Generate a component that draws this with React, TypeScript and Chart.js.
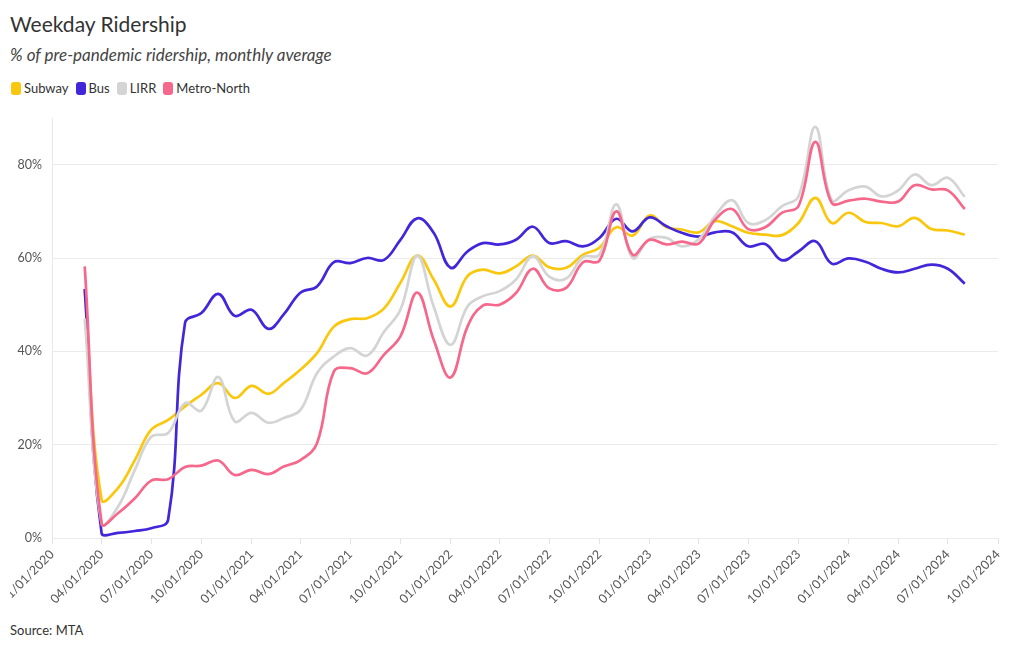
import React, { useEffect, useRef } from 'react';
import { Chart, registerables } from 'chart.js';

Chart.register(...registerables);

// ---------- Data ----------
const months = [
  '2020-03-01', '2020-04-01', '2020-05-01', '2020-06-01', '2020-07-01', '2020-08-01', '2020-09-01', '2020-10-01', '2020-11-01', '2020-12-01',
  '2021-01-01', '2021-02-01', '2021-03-01', '2021-04-01', '2021-05-01', '2021-06-01', '2021-07-01', '2021-08-01', '2021-09-01', '2021-10-01', '2021-11-01', '2021-12-01',
  '2022-01-01', '2022-02-01', '2022-03-01', '2022-04-01', '2022-05-01', '2022-06-01', '2022-07-01', '2022-08-01', '2022-09-01', '2022-10-01', '2022-11-01', '2022-12-01',
  '2023-01-01', '2023-02-01', '2023-03-01', '2023-04-01', '2023-05-01', '2023-06-01', '2023-07-01', '2023-08-01', '2023-09-01', '2023-10-01', '2023-11-01', '2023-12-01',
  '2024-01-01', '2024-02-01', '2024-03-01', '2024-04-01', '2024-05-01', '2024-06-01', '2024-07-01', '2024-08-01',
];

const subway = [
  53.0, 8.2, 10.7, 16.7, 23.2, 25.3, 28.2, 30.7, 33.2, 30.0,
  32.6, 30.9, 33.2, 36.1, 39.6, 45.3, 46.9, 47.1, 49.2, 54.7, 60.5, 55.4,
  49.6, 56.1, 57.5, 56.7, 58.2, 60.5, 58.0, 57.9, 60.7, 62.2, 66.6, 64.8,
  69.1, 66.6, 66.1, 65.5, 67.9, 66.8, 65.4, 65.0, 64.9, 67.5, 72.9, 67.5,
  69.7, 67.7, 67.5, 66.8, 68.6, 66.2, 65.9, 65.0,
];

const bus = [
  53.4, 1.0, 1.1, 1.5, 2.1, 3.9, 46.1, 48.2, 52.3, 47.6,
  48.9, 44.8, 47.9, 52.6, 53.9, 59.1, 58.9, 60.0, 59.6, 63.9, 68.5, 65.4,
  57.9, 61.4, 63.2, 62.9, 63.9, 66.7, 63.2, 63.6, 62.5, 64.3, 68.4, 65.7,
  68.7, 66.8, 65.4, 64.6, 65.5, 65.5, 62.5, 63.0, 59.5, 61.4, 63.6, 58.8,
  59.9, 59.2, 57.7, 56.9, 57.7, 58.6, 57.7, 54.5,
];

const lirr = [
  47.0, 3.1, 6.7, 14.6, 21.7, 22.5, 28.9, 27.3, 34.5, 25.0,
  26.8, 24.7, 25.7, 27.5, 35.3, 38.9, 40.7, 39.1, 44.2, 48.9, 60.5, 49.6,
  41.4, 49.6, 51.8, 52.9, 55.4, 60.4, 56.0, 55.6, 60.2, 60.7, 71.5, 60.0,
  64.1, 64.3, 62.5, 64.0, 69.0, 72.4, 67.5, 68.1, 71.1, 73.2, 88.1, 72.4,
  74.5, 75.3, 73.2, 74.5, 77.9, 75.6, 77.2, 73.1,
];

const metroNorth = [
  58.2, 3.1, 5.3, 8.5, 12.3, 12.6, 15.2, 15.5, 16.6, 13.5,
  14.6, 13.7, 15.3, 16.7, 20.3, 35.7, 36.4, 35.3, 39.3, 43.2, 52.6, 42.5,
  34.4, 45.3, 49.8, 50.0, 52.5, 57.7, 53.5, 53.6, 59.1, 59.4, 70.0, 60.7,
  63.9, 62.9, 63.5, 63.1, 68.2, 70.5, 66.2, 66.6, 69.7, 71.1, 84.9, 71.8,
  72.3, 72.7, 72.1, 72.1, 75.6, 74.7, 74.5, 70.5,
];

const seriesNames = ['Subway', 'Bus', 'LIRR', 'Metro-North'];
const seriesColors = ['#f9c80e', '#4226d9', '#d4d4d4', '#f6688b'];
const seriesValues = [subway, bus, lirr, metroNorth];

const xTickLabels = [
  '01/01/2020', '04/01/2020', '07/01/2020', '10/01/2020',
  '01/01/2021', '04/01/2021', '07/01/2021', '10/01/2021',
  '01/01/2022', '04/01/2022', '07/01/2022', '10/01/2022',
  '01/01/2023', '04/01/2023', '07/01/2023', '10/01/2023',
  '01/01/2024', '04/01/2024', '07/01/2024', '10/01/2024',
];
const yTickValues = [0, 20, 40, 60, 80];

// ---------- helpers ----------
const ORIGIN = Date.UTC(2020, 0, 1);
const isoToDay = (s: string) => {
  const [y, m, d] = s.split('-').map(Number);
  return (Date.UTC(y, m - 1, d) - ORIGIN) / 86400000;
};
const labelToDay = (s: string) => {
  const [m, d, y] = s.split('/').map(Number);
  return (Date.UTC(y, m - 1, d) - ORIGIN) / 86400000;
};

const FONT = 'Lato, "Source Sans Pro", "Noto Sans", sans-serif';

export default function App() {
  const canvasRef = useRef<HTMLCanvasElement | null>(null);

  useEffect(() => {
    const canvas = canvasRef.current;
    if (!canvas) return;
    const xDays = months.map(isoToDay);
    const tickDays = xTickLabels.map(labelToDay);

    const chart = new Chart(canvas, {
      type: 'line',
      data: {
        datasets: seriesValues.map((vals, i) => ({
          label: seriesNames[i],
          data: vals.map((v, j) => ({ x: xDays[j], y: v })),
          borderColor: seriesColors[i],
          backgroundColor: seriesColors[i],
          borderWidth: 2.7,
          pointRadius: 0,
          pointHoverRadius: 0,
          tension: 0.4,
          fill: false,
          order: seriesValues.length - i,
        })),
      },
      options: {
        animation: false,
        responsive: false,
        maintainAspectRatio: false,
        layout: { padding: { top: 10, right: 12, left: 0, bottom: 0 } },
        plugins: {
          legend: { display: false },
          tooltip: { enabled: false },
          title: { display: false },
        },
        scales: {
          x: {
            type: 'linear',
            min: tickDays[0],
            max: tickDays[tickDays.length - 1],
            afterBuildTicks: (s: any) => {
              s.ticks = tickDays.map((v) => ({ value: v }));
            },
            afterFit: (s: any) => {
              s.paddingLeft = 0;
              s.paddingRight = 0;
              s.height = 70;
            },
            ticks: {
              autoSkip: false,
              minRotation: 45,
              maxRotation: 45,
              padding: 3,
              color: '#555',
              font: { family: FONT, size: 12.5 },
              callback: (_v: any, idx: number) => xTickLabels[idx],
            },
            grid: { drawOnChartArea: false, drawTicks: true, tickLength: 6, color: '#e2e2e2' },
            border: { display: false },
          },
          y: {
            min: 0,
            max: 90,
            afterBuildTicks: (s: any) => {
              s.ticks = yTickValues.map((v) => ({ value: v }));
            },
            afterFit: (s: any) => {
              s.width = 42;
              s.paddingTop = 0;
              s.paddingBottom = 0;
            },
            ticks: {
              padding: 10,
              color: '#555',
              font: { family: FONT, size: 12.5 },
              callback: (v: any) => `${v}%`,
            },
            grid: { color: '#ebebeb', drawTicks: false },
            border: { display: true, color: '#e8e8e8' },
          },
        },
      },
    } as any);
    return () => chart.destroy();
  }, []);

  return (
    <div style={{ position: 'absolute', left: 0, top: 0, width: 1020, height: 650, background: '#fff', fontFamily: FONT, overflow: 'hidden' }}>
      <div style={{ position: 'absolute', left: 10, top: 13, fontSize: 21, lineHeight: '21px', color: '#333', whiteSpace: 'nowrap' }}>
        Weekday Ridership
      </div>
      <div style={{ position: 'absolute', left: 10, top: 45.5, fontSize: 17, lineHeight: '17px', fontStyle: 'italic', color: '#444', whiteSpace: 'nowrap' }}>
        % of pre-pandemic ridership, monthly average
      </div>
      <div style={{ position: 'absolute', left: 11, top: 82, display: 'flex', alignItems: 'center', gap: 7, fontSize: 13, lineHeight: '13px', color: '#333' }}>
        {seriesNames.map((n, i) => (
          <div key={n} style={{ display: 'flex', alignItems: 'center' }}>
            <span style={{ display: 'inline-block', width: 10, height: 13, borderRadius: 3, background: seriesColors[i], marginRight: 3 }} />
            <span style={{ whiteSpace: 'nowrap' }}>{n}</span>
          </div>
        ))}
      </div>
      <canvas ref={canvasRef} width={1000} height={500} style={{ position: 'absolute', left: 10, top: 108, width: 1000, height: 500 }} />
      <div style={{ position: 'absolute', left: 10, top: 624, fontSize: 13, lineHeight: '13px', color: '#333', whiteSpace: 'nowrap' }}>
        Source: MTA
      </div>
    </div>
  );
}
